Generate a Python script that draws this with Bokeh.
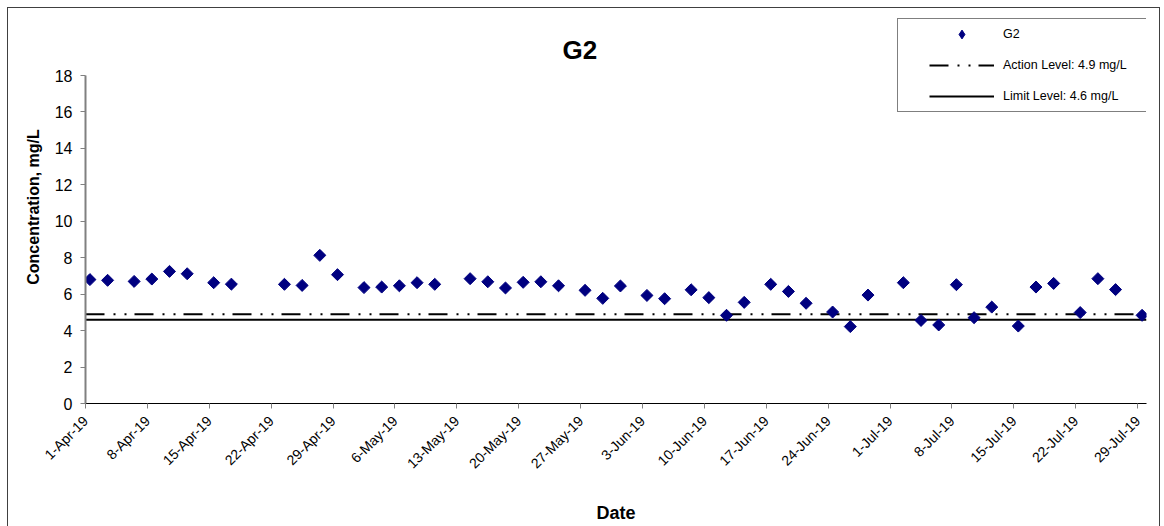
import numpy as np
import pandas as pd
from math import pi
from bokeh.plotting import figure
from bokeh.models import Legend, LegendItem, FixedTicker, Range1d, Label
from bokeh.embed import file_html
from bokeh.resources import INLINE

# ---- data ----
sample_times = [
    "2019-04-01 12:00", "2019-04-03 12:00", "2019-04-06 12:00", "2019-04-08 12:00",
    "2019-04-10 12:00", "2019-04-12 12:00", "2019-04-15 12:00", "2019-04-17 12:00",
    "2019-04-23 12:00", "2019-04-25 12:00", "2019-04-27 12:00", "2019-04-29 12:00",
    "2019-05-02 12:00", "2019-05-04 12:00", "2019-05-06 12:00", "2019-05-08 12:00",
    "2019-05-10 12:00", "2019-05-14 12:00", "2019-05-16 12:00", "2019-05-18 12:00",
    "2019-05-20 12:00", "2019-05-22 12:00", "2019-05-24 12:00", "2019-05-27 12:00",
    "2019-05-29 12:00", "2019-05-31 12:00", "2019-06-03 12:00", "2019-06-05 12:00",
    "2019-06-08 12:00", "2019-06-10 12:00", "2019-06-12 12:00", "2019-06-14 12:00",
    "2019-06-17 12:00", "2019-06-19 12:00", "2019-06-21 12:00", "2019-06-24 12:00",
    "2019-06-26 12:00", "2019-06-28 12:00", "2019-07-02 12:00", "2019-07-04 12:00",
    "2019-07-06 12:00", "2019-07-08 12:00", "2019-07-10 12:00", "2019-07-12 12:00",
    "2019-07-15 12:00", "2019-07-17 12:00", "2019-07-19 12:00", "2019-07-22 12:00",
    "2019-07-24 12:00", "2019-07-26 12:00", "2019-07-29 12:00",
]
g2_values = [
    6.80, 6.76, 6.70, 6.83, 7.25, 7.12, 6.63, 6.55,
    6.54, 6.48, 8.13, 7.07, 6.36, 6.39, 6.46, 6.63,
    6.54, 6.85, 6.68, 6.34, 6.65, 6.68, 6.46, 6.21,
    5.77, 6.45, 5.93, 5.75, 6.24, 5.81, 4.84, 5.55,
    6.54, 6.15, 5.50, 5.02, 4.22, 5.95, 6.63, 4.56,
    4.31, 6.52, 4.71, 5.29, 4.25, 6.39, 6.59, 4.99,
    6.85, 6.25, 4.84,
]
tick_dates = [
    "2019-04-01", "2019-04-08", "2019-04-15", "2019-04-22", "2019-04-29",
    "2019-05-06", "2019-05-13", "2019-05-20", "2019-05-27", "2019-06-03",
    "2019-06-10", "2019-06-17", "2019-06-24", "2019-07-01", "2019-07-08",
    "2019-07-15", "2019-07-22", "2019-07-29",
]
tick_labels = [
    "1-Apr-19", "8-Apr-19", "15-Apr-19", "22-Apr-19", "29-Apr-19",
    "6-May-19", "13-May-19", "20-May-19", "27-May-19", "3-Jun-19",
    "10-Jun-19", "17-Jun-19", "24-Jun-19", "1-Jul-19", "8-Jul-19",
    "15-Jul-19", "22-Jul-19", "29-Jul-19",
]
y_ticks = [0, 2, 4, 6, 8, 10, 12, 14, 16, 18]
action_level = 4.9
limit_level = 4.6
x_start, x_end = "2019-04-01", "2019-07-30"
chart_title = "G2"

origin = pd.Timestamp(x_start)
day = pd.Timedelta(days=1)
x_days = ((pd.to_datetime(sample_times) - origin) / day).to_numpy()
tick_x = [int((pd.Timestamp(d) - origin) / day) for d in tick_dates]
x_max = (pd.Timestamp(x_end) - origin) / day

FONT = "Liberation Sans"

# layout (pixels)
FRAME_W, FRAME_H = 1061, 393
AXIS_H = 328  # pixel height of the 0..18 axis inside the frame
y_top = y_ticks[-1] * FRAME_H / AXIS_H

p = figure(
    width=1151, height=517,
    frame_width=FRAME_W, frame_height=FRAME_H,
    min_border_left=77, min_border_right=13, min_border_top=2, min_border_bottom=122,
    x_range=Range1d(0, x_max), y_range=Range1d(y_ticks[0], y_top),
    output_backend="svg", toolbar_location=None,
)
p.styles = {"margin": "7px 0 0 7px", "border": "1px solid #404040",
            "border-bottom": "none", "box-sizing": "content-box"}
p.outline_line_color = None
p.xgrid.visible = False
p.ygrid.visible = False
p.background_fill_color = "white"
p.border_fill_color = "white"

# title
p.add_layout(Label(x=55.9, y=19.4, text=chart_title, text_align="center",
                   text_baseline="middle", text_font=FONT, text_font_size="26px",
                   text_font_style="bold", text_color="black"))

# x axis
xa = p.xaxis[0]
xa.ticker = FixedTicker(ticks=tick_x)
xa.major_label_overrides = {t: lab for t, lab in zip(tick_x, tick_labels)}
xa.major_label_orientation = pi / 4
xa.major_label_text_font = FONT
xa.major_label_text_font_size = "14px"
xa.major_label_text_color = "black"
xa.major_label_standoff = 10
xa.axis_line_color = "black"
xa.major_tick_line_color = "#808080"
xa.major_tick_in = 0
xa.major_tick_out = 5
xa.minor_tick_line_color = None
xa.axis_label = "Date"
xa.axis_label_text_font = FONT
xa.axis_label_text_font_size = "18px"
xa.axis_label_text_font_style = "bold"
xa.axis_label_text_color = "black"
xa.axis_label_standoff = 23

# y axis
ya = p.yaxis[0]
ya.ticker = FixedTicker(ticks=y_ticks)
ya.bounds = (y_ticks[0], y_ticks[-1])
ya.major_label_text_font = FONT
ya.major_label_text_font_size = "16px"
ya.major_label_text_color = "black"
ya.major_label_standoff = 8
ya.axis_line_color = "#808080"
ya.axis_line_width = 2
ya.major_tick_line_color = "#808080"
ya.major_tick_in = 0
ya.major_tick_out = 5
ya.minor_tick_line_color = None
ya.axis_label = "Concentration, mg/L"
ya.axis_label_text_font = FONT
ya.axis_label_text_font_size = "16px"
ya.axis_label_text_font_style = "bold"
ya.axis_label_text_color = "black"
ya.axis_label_standoff = 10

# reference lines (drawn across the whole date range)
ACTION_DASH = "19 9 2 9 2 8"
act = p.line([0, x_max], [action_level, action_level], line_color="black",
             line_width=2, line_dash=ACTION_DASH)
lim = p.line([0, x_max], [limit_level, limit_level], line_color="black", line_width=2)

# data points
pts = p.scatter(x_days, g2_values, marker="square", angle=pi / 4, size=8.5,
                fill_color="#000080", line_color="#000080")

# legend-only marker (smaller diamond)
leg_pts = p.scatter([np.nan], [np.nan], marker="diamond", size=11,
                    fill_color="#000080", line_color="#000080")

legend = Legend(
    items=[
        LegendItem(label=chart_title, renderers=[leg_pts]),
        LegendItem(label="Action Level: " + str(action_level) + " mg/L", renderers=[act]),
        LegendItem(label="Limit Level: " + str(limit_level) + " mg/L", renderers=[lim]),
    ],
    location=(812, 291),
    padding=4, spacing=9, margin=0,
    glyph_width=65, glyph_height=22, label_height=22, label_width=146,
    label_standoff=9,
    title=" ", title_location="left", title_text_font_size="1px", title_standoff=26,
    label_text_font=FONT, label_text_font_size="12.5px", label_text_color="black",
    border_line_color="black", border_line_width=1,
    background_fill_color="white", background_fill_alpha=1.0,
)
p.add_layout(legend)

open("out.html", "w").write(file_html(p, INLINE))
